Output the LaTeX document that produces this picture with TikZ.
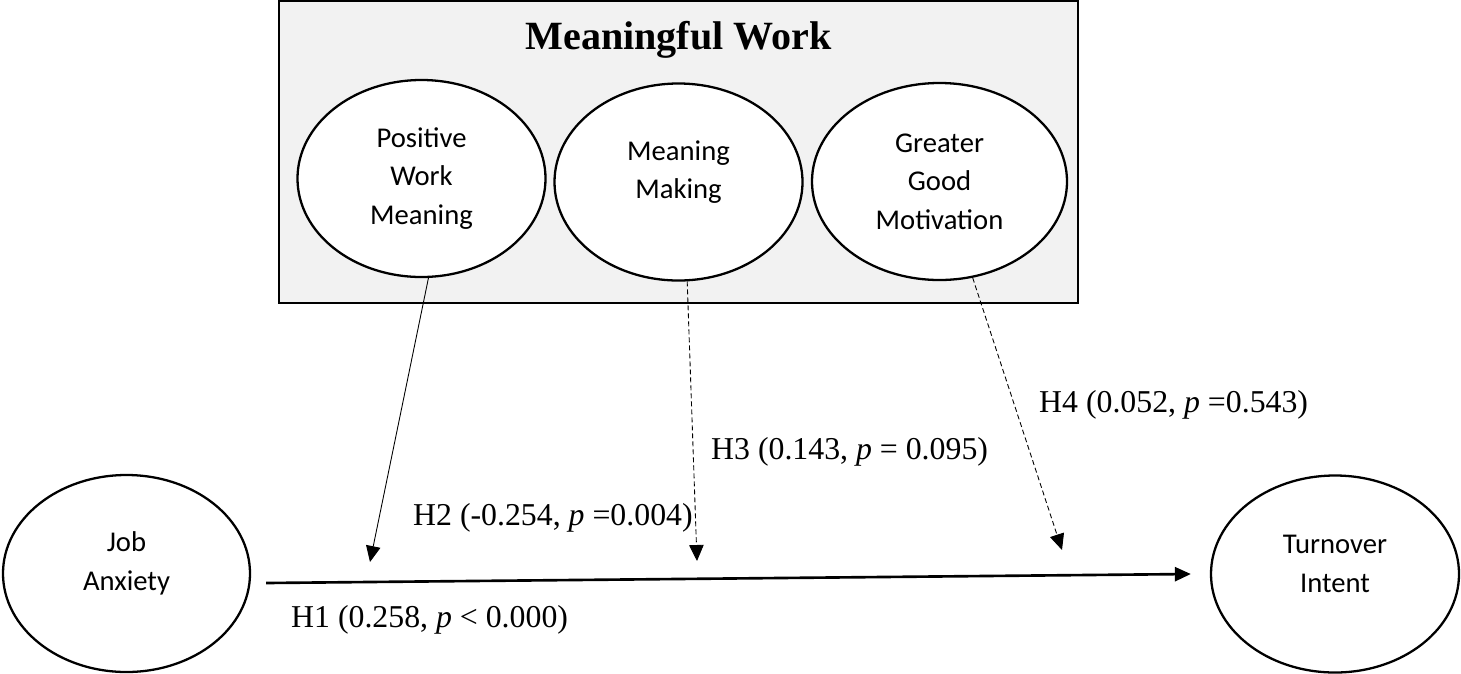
\documentclass[tikz,border=0pt]{standalone}
\usepackage{fontspec}
\setmainfont{Liberation Serif}
\newfontfamily\calibri{Carlito}
\usetikzlibrary{shapes.geometric,arrows.meta}
\begin{document}
\begin{tikzpicture}[x=0.2mm,y=-0.2mm,
	hinhelip/.style={draw,ellipse,fill=white,line width=1.3pt,inner sep=0pt,minimum width=49.6mm,minimum height=39.4mm},
	chuelip/.style={font=\calibri\fontsize{16.3}{21.9}\selectfont,align=center},
	nhan/.style={anchor=base west,font=\fontsize{18.1}{20}\selectfont},
	muiten/.style={-{Triangle[length=3.2mm,width=2.9mm]},line width=0.5pt},
	muitendut/.style={muiten,dash pattern=on 1mm off 0.6mm}]
	\definecolor{xamnen}{RGB}{242,242,242}
	\useasboundingbox (0,0) rectangle (1461,673);
	
	%Khung Meaningful Work
	\node[draw,line width=1.5pt,fill=xamnen,minimum width=159.8mm,minimum height=60.4mm] (khung) at (678.5,152) {};
	\node[anchor=base,font=\bfseries\fontsize{22.8}{26}\selectfont] (tieude) at (678.5,49) {Meaningful Work};
	\node[hinhelip] (pwm) at (421.5,178.5) {};
	\node[hinhelip] (mm) at (678.5,182) {};
	\node[hinhelip,minimum width=51mm] (ggm) at (939.5,181.5) {};
	\node[chuelip] (pwmchu) at (pwm) {Positive\\Work\\Meaning};
	\node[chuelip] (mmchu) at ([yshift=2mm]mm) {Meaning\\Making};
	\node[chuelip] (ggmchu) at (ggm) {Greater\\Good\\Motivation};
	
	%Job Anxiety -> Turnover Intent
	\node[hinhelip,minimum width=49.4mm] (ja) at (126.5,573.5) {};
	\node[hinhelip] (ti) at (1335,574) {};
	\node[chuelip] (jachu) at ([yshift=2mm]ja) {Job\\Anxiety};
	\node[chuelip] (tichu) at ([yshift=2mm]ti) {Turnover\\Intent};
	\draw[-{Triangle[length=3.2mm,width=2.8mm]},line width=1.5pt] ([xshift=3mm,yshift=-1.9mm]ja.east) -- ([xshift=-3.8mm]ti.west);
	
	\coordinate (c2) at (370,562);
	\coordinate (c3) at (697,561);
	\coordinate (c4) at (1062,550);
	\draw[muiten] (pwm.-86) -- (c2);
	\draw[muitendut] (mm.-85) -- (c3);
	\draw[muitendut] (ggm.-71) -- (c4);
	
	\node[nhan] (h1) at (285,627) {H1 (0.258, \textit{p} < 0.000)};
	\node[nhan] (h2) at (407,525) {H2 (-0.254, \textit{p} =0.004)};
	\node[nhan] (h3) at (705,459) {H3 (0.143, \textit{p} = 0.095)};
	\node[nhan] (h4) at (1033,412) {H4 (0.052, \textit{p} =0.543)};
\end{tikzpicture}
\end{document}
